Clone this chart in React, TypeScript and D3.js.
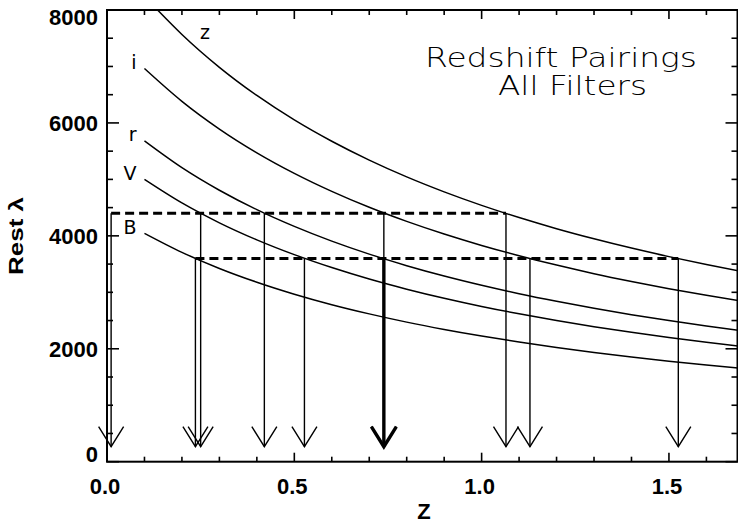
import React from "react";
import * as d3 from "d3";

// ---- data ----
const zGrid = [0.1, 0.2, 0.3, 0.4, 0.5, 0.6, 0.7, 0.8, 0.9, 1.0, 1.1, 1.2, 1.3, 1.4, 1.5, 1.6, 1.7];
const zGridZband = [0.135, 0.2, 0.3, 0.4, 0.5, 0.6, 0.7, 0.8, 0.9, 1.0, 1.1, 1.2, 1.3, 1.4, 1.5, 1.6, 1.7];
const bandB = [4045, 3708, 3423, 3179, 2967, 2781, 2618, 2472, 2342, 2225, 2119, 2023, 1935, 1854, 1780, 1712, 1648];
const bandV = [5000, 4583, 4231, 3929, 3667, 3438, 3235, 3056, 2895, 2750, 2619, 2500, 2391, 2292, 2200, 2115, 2037];
const bandR = [5682, 5208, 4808, 4464, 4167, 3906, 3676, 3472, 3289, 3125, 2976, 2841, 2717, 2604, 2500, 2404, 2315];
const bandI = [6964, 6383, 5892, 5471, 5107, 4788, 4506, 4256, 4032, 3830, 3648, 3482, 3330, 3192, 3064, 2946, 2837];
const bandZ = [8000, 7567, 6985, 6486, 6053, 5675, 5341, 5044, 4779, 4540, 4324, 4127, 3948, 3783, 3632, 3492, 3363];
const bandNames = ["B", "V", "r", "i", "z"];

// arrows: redshift and the rest wavelength they drop from
const arrowZ = [0.011, 0.236, 0.25, 0.42, 0.527, 0.739, 0.739, 1.065, 1.129, 1.525];
const arrowFrom = [4400, 3600, 4400, 4400, 3600, 4400, 3600, 4400, 3600, 3600];
const pairLevels = [4400, 3600];

const xMajorTicks = [0, 0.5, 1.0, 1.5];
const xTickLabels = ["0.0", "0.5", "1.0", "1.5"];
const yMajorTicks = [0, 2000, 4000, 6000, 8000];
const yTickLabels = ["0", "2000", "4000", "6000", "8000"];
const titleLines = ["Redshift Pairings", "All Filters"];

export default function App() {
  const L = 107, R = 737.5, T = 10, B = 461.7;
  const x = d3.scaleLinear().domain([0, 1.683]).range([L, R]);
  const y = d3.scaleLinear().domain([0, 8000]).range([B, T]);

  const series = [
    { name: bandNames[0], xs: zGrid, ys: bandB },
    { name: bandNames[1], xs: zGrid, ys: bandV },
    { name: bandNames[2], xs: zGrid, ys: bandR },
    { name: bandNames[3], xs: zGrid, ys: bandI },
    { name: bandNames[4], xs: zGridZband, ys: bandZ },
  ];
  const line = d3
    .line<[number, number]>()
    .x((d) => x(d[0]))
    .y((d) => y(d[1]))
    .curve(d3.curveMonotoneX);

  const xMinor = d3.range(0, 1.65, 0.1);
  const yMinor = d3.range(0, 8001, 500);

  const font = "'Liberation Sans', Arial, Helvetica, sans-serif";
  const thin = "'DejaVu Sans', 'Liberation Sans', sans-serif";

  const tipY = B - 15;
  const headH = 20;
  const headW = 12.5;

  const labelY = (v: number) => Math.min(Math.max(y(v) + 2.5, T + 9), B - 6);

  // order arrows so the long thin ones are drawn last, on top
  const order = arrowZ.map((_, i) => i);

  return (
    <svg
      width={738}
      height={523}
      style={{ position: "absolute", left: 0, top: 0, background: "#fff" }}
      xmlns="http://www.w3.org/2000/svg"
    >
      <rect x={0} y={0} width={738} height={523} fill="#fff" />
      <defs>
        <clipPath id="plotclip">
          <rect x={L} y={T} width={R - L} height={B - T} />
        </clipPath>
      </defs>

      {/* curves */}
      <g clipPath="url(#plotclip)" fill="none" stroke="#000" strokeWidth={1.5}>
        {series.map((s) => (
          <path key={s.name} d={line(s.xs.map((z, i) => [z, s.ys[i]] as [number, number])) || ""} />
        ))}
      </g>

      {/* curve labels */}
      <g fontFamily={thin} fontSize={19} fill="#000">
        {series.slice(0, 4).map((s) => (
          <text
            key={s.name}
            x={x(s.xs[0]) - 8}
            y={y(s.ys[0]) - 5}
            textAnchor="end"
            dominantBaseline="middle"
          >
            {s.name}
          </text>
        ))}
        <text x={x(zGridZband[1]) + 23} y={y(bandZ[1]) - 1} textAnchor="middle" dominantBaseline="middle">
          {series[4].name}
        </text>
      </g>

      {/* dashed pairing lines */}
      <g stroke="#000" strokeWidth={3} strokeDasharray="9 5">
        {pairLevels.map((lv) => {
          const zs = arrowZ.filter((_, i) => arrowFrom[i] === lv);
          return (
            <line key={lv} x1={x(d3.min(zs)!)} x2={x(d3.max(zs)!)} y1={y(lv)} y2={y(lv)} />
          );
        })}
      </g>

      {/* arrows */}
      <g stroke="#000" fill="none">
        {order.map((i) => {
          const z = arrowZ[i];
          // an arrow overlapped by a longer one at the same redshift is drawn bold
          const overlapped = arrowZ.some(
            (w, j) => j !== i && Math.abs(w - z) < 0.005 && arrowFrom[j] > arrowFrom[i]
          );
          const sw = overlapped ? 3.4 : 1.4;
          const ax = x(z);
          return (
            <g key={i} strokeWidth={sw}>
              <line x1={ax} x2={ax} y1={y(arrowFrom[i])} y2={tipY} />
              <path d={`M${ax - headW},${tipY - headH} L${ax},${tipY} L${ax + headW},${tipY - headH}`} />
            </g>
          );
        })}
      </g>

      {/* axes box */}
      <rect x={L} y={T} width={R - L} height={B - T} fill="none" stroke="#000" strokeWidth={2} />

      {/* ticks */}
      <g stroke="#000" strokeWidth={1.6}>
        {xMinor.map((v, i) => {
          const major = xMajorTicks.some((m) => Math.abs(m - v) < 1e-6);
          const len = major ? 9 : 5;
          return (
            <g key={i}>
              <line x1={x(v)} x2={x(v)} y1={B} y2={B - len} />
              <line x1={x(v)} x2={x(v)} y1={T} y2={T + len} />
            </g>
          );
        })}
        {yMinor.map((v, i) => {
          const major = yMajorTicks.includes(v);
          const len = major ? 12 : 6;
          return (
            <g key={i}>
              <line x1={L} x2={L + len} y1={y(v)} y2={y(v)} />
              <line x1={R} x2={R - len} y1={y(v)} y2={y(v)} />
            </g>
          );
        })}
      </g>

      {/* tick labels */}
      <g fontFamily={font} fontWeight="bold" fontSize={22} fill="#000">
        {xMajorTicks.map((v, i) => (
          <text key={i} x={x(v) - 2} y={494} textAnchor="middle">
            {xTickLabels[i]}
          </text>
        ))}
        {yMajorTicks.map((v, i) => (
          <text key={i} x={98} y={labelY(v)} textAnchor="end" dominantBaseline="middle">
            {yTickLabels[i]}
          </text>
        ))}
      </g>

      {/* axis titles */}
      <text x={424} y={519} fontFamily={font} fontWeight="bold" fontSize={22} textAnchor="middle">
        Z
      </text>
      <text
        transform="translate(23,236) rotate(-90)"
        fontFamily={font}
        fontWeight="bold"
        fontSize={21}
        textAnchor="middle"
        textLength={78}
        lengthAdjust="spacingAndGlyphs"
      >
        Rest λ
      </text>

      {/* title */}
      <g fontFamily={thin} fontWeight={300} fontSize={27} fill="#000">
        <text x={425} y={67} textLength={272} lengthAdjust="spacingAndGlyphs">
          {titleLines[0]}
        </text>
        <text x={498} y={95} textLength={149} lengthAdjust="spacingAndGlyphs">
          {titleLines[1]}
        </text>
      </g>
    </svg>
  );
}
